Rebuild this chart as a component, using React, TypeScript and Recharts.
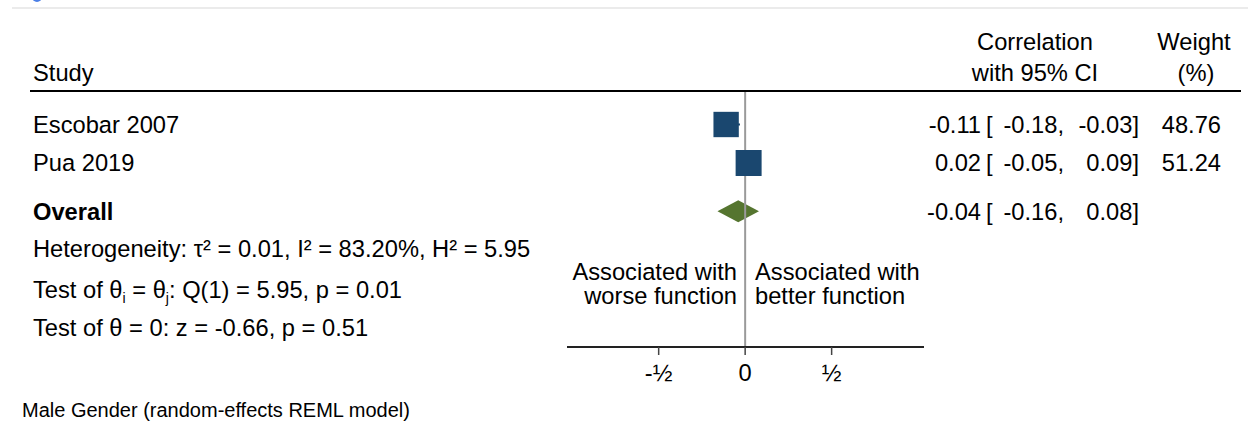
import React from 'react';
import { ScatterChart, Scatter, XAxis, YAxis, ReferenceLine, ReferenceArea } from 'recharts';

// Study-level correlations with 95% CI and random-effects weights
const studies = ['Escobar 2007', 'Pua 2019'];
const estimates = [-0.11, 0.02];
const lowerCI = [-0.18, -0.05];
const upperCI = [-0.03, 0.09];
const weights = [48.76, 51.24];

// Pooled estimate: [estimate, lower, upper]
const overallLabel = 'Overall';
const overallCI = [-0.04, -0.16, 0.08];

// Row slots on the vertical axis
const studyRows = [1, 2];
const overallRow = 3.25;

const xTicks = [-0.5, 0, 0.5];
const xTickLabels = ['-½', '0', '½'];

const heterogeneityText = 'Heterogeneity: τ² = 0.01, I² = 83.20%, H² = 5.95';
const modelTitle = 'Male Gender (random-effects REML model)';

const W = 1248;
const H = 428;
const FONT = '"Liberation Sans", Arial, Helvetica, sans-serif';
const FS = 23.7;
const NAVY = '#1a476f';
const GREEN = '#55752f';

const fmt = (v: number) => v.toFixed(2);

const studyData = studies.map((name, i) => ({
  name,
  est: estimates[i],
  lo: lowerCI[i],
  hi: upperCI[i],
  weight: weights[i],
  row: studyRows[i],
}));

const rowInfo = [
  ...studyData.map((d) => ({
    row: d.row,
    label: d.name,
    bold: false,
    est: d.est,
    lo: d.lo,
    hi: d.hi,
    weight: fmt(d.weight),
  })),
  {
    row: overallRow,
    label: overallLabel,
    bold: true,
    est: overallCI[0],
    lo: overallCI[1],
    hi: overallCI[2],
    weight: '',
  },
];

type RowEntry = (typeof rowInfo)[number];

// Row text (study name, CI column, weight column) placed at the row's y position
function RowText(props: any) {
  const r: RowEntry = props.entry;
  const vb = props.viewBox || {};
  if (vb.y == null) return null;
  const base = vb.y + 8.5;
  return (
    <g fontFamily={FONT} fontSize={FS}>
      <text x={33} y={base} fontWeight={r.bold ? 'bold' : 'normal'} fill="#000">
        {r.label}
      </text>
      <text x={981} y={base} textAnchor="end" fill="#000">{fmt(r.est)}</text>
      <text x={986} y={base} fill="#000">[</text>
      <text x={1064} y={base} textAnchor="end" fill="#000">{fmt(r.lo)},</text>
      <text x={1139} y={base} textAnchor="end" fill="#000">{fmt(r.hi)}]</text>
      {r.weight ? (
        <text x={1221} y={base} textAnchor="end" fill="#000">{r.weight}</text>
      ) : null}
    </g>
  );
}

function XTick(props: any) {
  const { x, y, payload } = props;
  const i = xTicks.findIndex((t) => Math.abs(t - payload.value) < 1e-6);
  return (
    <text x={x} y={y + 24} textAnchor="middle" fontFamily={FONT} fontSize={FS} fill="#000">
      {i >= 0 ? xTickLabels[i] : ''}
    </text>
  );
}

function StudySquare(props: any) {
  const { cx, cy, payload } = props;
  const s = 3.63 * Math.sqrt(payload.weight);
  return <rect x={cx - s / 2} y={cy - s / 2} width={s} height={s} fill={NAVY} />;
}

function OverallDiamond(props: any) {
  const { x, y, width, height } = props;
  const cy = y + height / 2;
  const [est, lo, hi] = overallCI;
  const cx = x + (width * (est - lo)) / (hi - lo);
  const h = 11;
  const pts = `${x},${cy} ${cx},${cy - h} ${x + width},${cy} ${cx},${cy + h}`;
  return <polygon points={pts} fill={GREEN} />;
}

function Overlay() {
  const t = { fontFamily: FONT, fontSize: FS, fill: '#000' } as const;
  return (
    <svg
      width={W}
      height={H}
      style={{ position: 'absolute', left: 0, top: 0, pointerEvents: 'none' }}
    >
      <line x1={12} y1={8} x2={W} y2={8} stroke="#e4e4e4" strokeWidth={1.5} />
      <circle cx={37} cy={-3} r={5} fill="#4b7fe6" />

      <text x={33} y={81} {...t}>Study</text>
      <text x={1035} y={50} textAnchor="middle" {...t}>Correlation</text>
      <text x={1035} y={81} textAnchor="middle" {...t}>with 95% CI</text>
      <text x={1194} y={50} textAnchor="middle" {...t}>Weight</text>
      <text x={1196} y={81} textAnchor="middle" {...t}>(%)</text>
      <line x1={30} y1={91} x2={1241} y2={91} stroke="#000" strokeWidth={2} />

      <text x={33} y={257} {...t}>{heterogeneityText}</text>
      <text x={33} y={298} {...t}>
        Test of θ<tspan dy={5} fontSize={14}>i</tspan>
        <tspan dy={-5}> = θ</tspan>
        <tspan dy={5} fontSize={14}>j</tspan>
        <tspan dy={-5}>: Q(1) = 5.95, p = 0.01</tspan>
      </text>
      <text x={33} y={336} {...t}>Test of θ = 0: z = -0.66, p = 0.51</text>

      <text x={737} y={280} textAnchor="end" {...t}>Associated with</text>
      <text x={737} y={304} textAnchor="end" {...t}>worse function</text>
      <text x={755} y={280} {...t}>Associated with</text>
      <text x={755} y={304} {...t}>better function</text>

      <text x={22} y={417} fontFamily={FONT} fontSize={20} fill="#000">{modelTitle}</text>
    </svg>
  );
}

export default function App() {
  return (
    <div style={{ position: 'absolute', left: 0, top: 0, width: W, height: H, background: '#fff' }}>
      <ScatterChart
        width={W}
        height={H}
        margin={{ top: 91, right: 324, bottom: 41, left: 567 }}
      >
        <XAxis
          type="number"
          dataKey="est"
          domain={[-1.03, 1.034]}
          allowDataOverflow
          ticks={xTicks}
          interval={0}
          height={40}
          tickSize={8}
          axisLine={{ stroke: '#222', strokeWidth: 2 }}
          tickLine={{ stroke: '#444', strokeWidth: 1.5 }}
          tick={<XTick />}
        />
        <YAxis
          type="number"
          dataKey="row"
          domain={[0.13, 6.779]}
          reversed
          allowDataOverflow
          hide
        />
        <ReferenceLine x={0} stroke="#9a9a9a" strokeWidth={2} ifOverflow="visible" />
        {rowInfo.map((r) => (
          <ReferenceLine
            key={`row-${r.label}`}
            y={r.row}
            stroke="none"
            ifOverflow="visible"
            label={<RowText entry={r} />}
          />
        ))}
        {studyData.map((d) => (
          <ReferenceLine
            key={d.name}
            segment={[
              { x: d.lo, y: d.row },
              { x: d.hi, y: d.row },
            ]}
            stroke={NAVY}
            strokeWidth={2}
            ifOverflow="visible"
          />
        ))}
        <ReferenceArea
          x1={overallCI[1]}
          x2={overallCI[2]}
          y1={overallRow - 0.2}
          y2={overallRow + 0.2}
          shape={<OverallDiamond />}
          ifOverflow="visible"
        />
        <Scatter data={studyData} shape={<StudySquare />} isAnimationActive={false} />
      </ScatterChart>
      <Overlay />
    </div>
  );
}
